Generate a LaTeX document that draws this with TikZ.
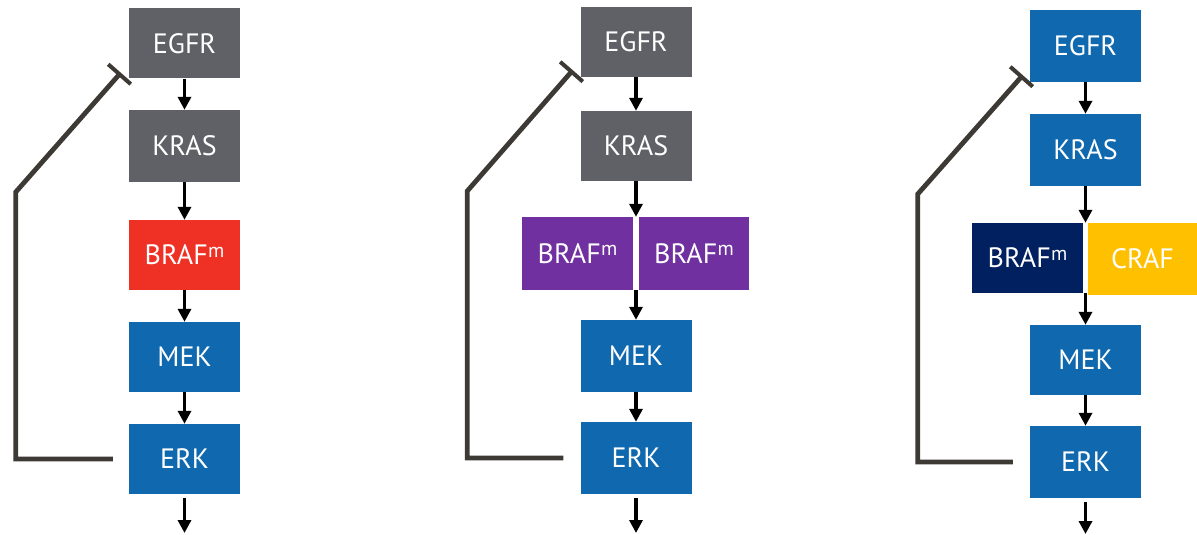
\documentclass[tikz,border=0pt]{standalone}
\usepackage{fontspec}
\setmainfont{PT Sans}
\usetikzlibrary{arrows.meta}
\definecolor{cgray}{HTML}{5F6166}
\definecolor{cred}{HTML}{EE3124}
\definecolor{cblue}{HTML}{1069AF}
\definecolor{cpurple}{HTML}{7030A0}
\definecolor{cnavy}{HTML}{002060}
\definecolor{cgold}{HTML}{FFC000}
\definecolor{cline}{HTML}{3D3935}
\newcommand{\brafm}{BRAF\kern0.3pt\raisebox{7.5pt}{\fontsize{20}{20}\selectfont m}}
\begin{document}
\begin{tikzpicture}[x=1pt,y=-1pt,
  box/.style={minimum width=111pt, minimum height=70pt, inner sep=0pt, text=white, font=\fontsize{28}{30}\selectfont},
  flow/.style={-{Triangle[width=13pt,length=13pt]}, line width=3.4pt, draw=black},
  fb/.style={line width=4.8pt, draw=cline, line join=miter, -{Bar[width=30pt,line width=4pt]}}]
\useasboundingbox (0,0) rectangle (1197,535);

% ---------- left panel ----------
\node[box,fill=cgray] (egfrA) at (184.5,43.5) {EGFR};
\node[box,fill=cgray,minimum height=72pt] (krasA) at (184.5,146) {KRAS};
\node[box,fill=cred] (brafA) at (184.5,255) {\brafm};
\node[box,fill=cblue] (mekA) at (184.5,357) {MEK};
\node[box,fill=cblue] (erkA) at (184.5,459) {ERK};
\coordinate (endA) at (184.5,533);
\draw[flow] (egfrA.south) -- (krasA.north);
\draw[flow] (krasA.south) -- (brafA.north);
\draw[flow] (brafA.south) -- (mekA.north);
\draw[flow] (mekA.south) -- (erkA.north);
\draw[flow] ([yshift=-4pt]erkA.south) -- (endA);
\draw[fb] ([xshift=-16pt]erkA.west) -- ++(-97,0) -- ++(0,-267) -- ([shift={(-8pt,6pt)}]egfrA.south west);

% ---------- middle panel ----------
\node[box,fill=cgray] (egfrB) at (636,42) {EGFR};
\node[box,fill=cgray] (krasB) at (636,146) {KRAS};
\node[box,fill=cpurple,minimum height=73pt] (brafB1) at (577.5,253.5) {\brafm};
\node[box,fill=cpurple,minimum height=73pt,minimum width=110pt] (brafB2) at (694,253.5) {\brafm};
\node[box,fill=cblue,minimum height=72pt] (mekB) at (636,356) {MEK};
\node[box,fill=cblue,minimum height=72pt] (erkB) at (636,458) {ERK};
\coordinate (endB) at (636,533);
\draw[flow] (egfrB.south) -- (krasB.north);
\draw[flow] (krasB.south) -- (krasB.south |- brafB1.north);
\draw[flow] (mekB.north |- brafB1.south) -- (mekB.north);
\draw[flow] (mekB.south) -- (erkB.north);
\draw[flow] ([yshift=-4pt]erkB.south) -- (endB);
\draw[fb] ([xshift=-17pt]erkB.west) -- ++(-96,0) -- ++(0,-267) -- ([shift={(-7.5pt,7pt)}]egfrB.south west);

% ---------- right panel ----------
\node[box,fill=cblue,minimum height=72pt] (egfrC) at (1085.5,46) {EGFR};
\node[box,fill=cblue,minimum height=72pt] (krasC) at (1085.5,150) {KRAS};
\node[box,fill=cnavy] (brafC) at (1027.5,258) {\brafm};
\node[box,fill=cgold,minimum height=72pt,minimum width=109pt] (crafC) at (1142.5,259) {CRAF};
\node[box,fill=cblue] (mekC) at (1085.5,360) {MEK};
\node[box,fill=cblue,minimum height=72pt] (erkC) at (1085.5,462) {ERK};
\coordinate (endC) at (1085.5,534);
\draw[flow] (egfrC.south) -- (krasC.north);
\draw[flow] (krasC.south) -- (krasC.south |- brafC.north);
\draw[flow] (mekC.north |- brafC.south) -- (mekC.north);
\draw[flow] (mekC.south) -- (erkC.north);
\draw[flow] ([yshift=-4pt]erkC.south) -- (endC);
\draw[fb] ([xshift=-17pt]erkC.west) -- ++(-95,0) -- ++(0,-268) -- ([shift={(-7pt,7pt)}]egfrC.south west);
\end{tikzpicture}
\end{document}
